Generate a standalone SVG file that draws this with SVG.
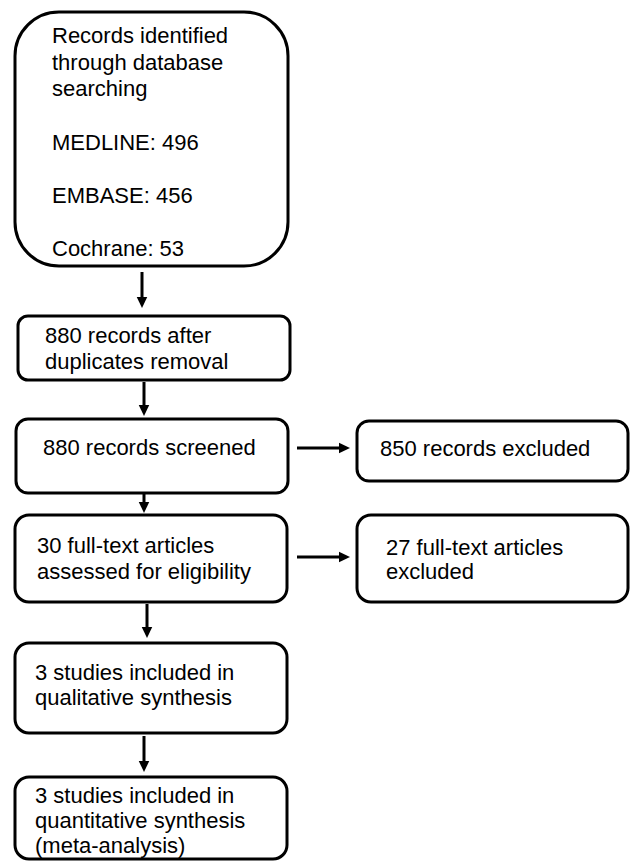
<svg xmlns="http://www.w3.org/2000/svg" width="630" height="861" viewBox="0 0 630 861">
<style>
.box{fill:#fff;stroke:#000;stroke-width:3}
.t{font-family:"Liberation Sans",Arial,sans-serif;font-size:22px;fill:#000}
.c{stroke:#000;stroke-width:3;fill:none}
</style>
<defs>
<marker id="ah" markerUnits="userSpaceOnUse" markerWidth="12" markerHeight="12" viewBox="0 0 12 12" refX="0.5" refY="6" orient="auto">
<path d="M0,0.5 L11.5,6 L0,11.5 Z" fill="#000"/>
</marker>
</defs>
<rect width="630" height="861" fill="#fff"/>
<g id="connectors">
<line class="c" x1="142" y1="272" x2="142" y2="297" marker-end="url(#ah)"/>
<line class="c" x1="144" y1="382" x2="144" y2="405" marker-end="url(#ah)"/>
<line class="c" x1="144" y1="494" x2="144" y2="502" marker-end="url(#ah)"/>
<line class="c" x1="147" y1="604" x2="147" y2="627" marker-end="url(#ah)"/>
<line class="c" x1="144" y1="736" x2="144" y2="761" marker-end="url(#ah)"/>
<line class="c" x1="297" y1="448" x2="339" y2="448" marker-end="url(#ah)"/>
<line class="c" x1="297" y1="557" x2="339" y2="557" marker-end="url(#ah)"/>
</g>
<g id="n1">
<rect class="box" x="15" y="12" width="273" height="254" rx="44"/>
<text class="t" x="52" y="43">Records identified</text>
<text class="t" x="52" y="70">through database</text>
<text class="t" x="52" y="96">searching</text>
<text class="t" x="52" y="150">MEDLINE: 496</text>
<text class="t" x="52" y="203">EMBASE: 456</text>
<text class="t" x="52" y="256">Cochrane: 53</text>
</g>
<g id="n2">
<rect class="box" x="18" y="316" width="272" height="64" rx="10"/>
<text class="t" x="45" y="343">880 records after</text>
<text class="t" x="45" y="369">duplicates removal</text>
</g>
<g id="n3">
<rect class="box" x="16" y="419" width="272" height="74" rx="12"/>
<text class="t" x="43" y="455">880 records screened</text>
</g>
<g id="n4">
<rect class="box" x="357" y="421" width="271" height="60" rx="12"/>
<text class="t" x="380" y="456">850 records excluded</text>
</g>
<g id="n5">
<rect class="box" x="15" y="515" width="272" height="87" rx="14"/>
<text class="t" x="37" y="553">30 full-text articles</text>
<text class="t" x="37" y="579">assessed for eligibility</text>
</g>
<g id="n6">
<rect class="box" x="357" y="515" width="271" height="87" rx="14"/>
<text class="t" x="386" y="555">27 full-text articles</text>
<text class="t" x="386" y="579">excluded</text>
</g>
<g id="n7">
<rect class="box" x="15" y="643" width="272" height="90" rx="14"/>
<text class="t" x="35" y="680">3 studies included in</text>
<text class="t" x="35" y="705">qualitative synthesis</text>
</g>
<g id="n8">
<rect class="box" x="15" y="777" width="272" height="82" rx="14"/>
<text class="t" x="35" y="803">3 studies included in</text>
<text class="t" x="35" y="828">quantitative synthesis</text>
<text class="t" x="35" y="853">(meta-analysis)</text>
</g>
</svg>
